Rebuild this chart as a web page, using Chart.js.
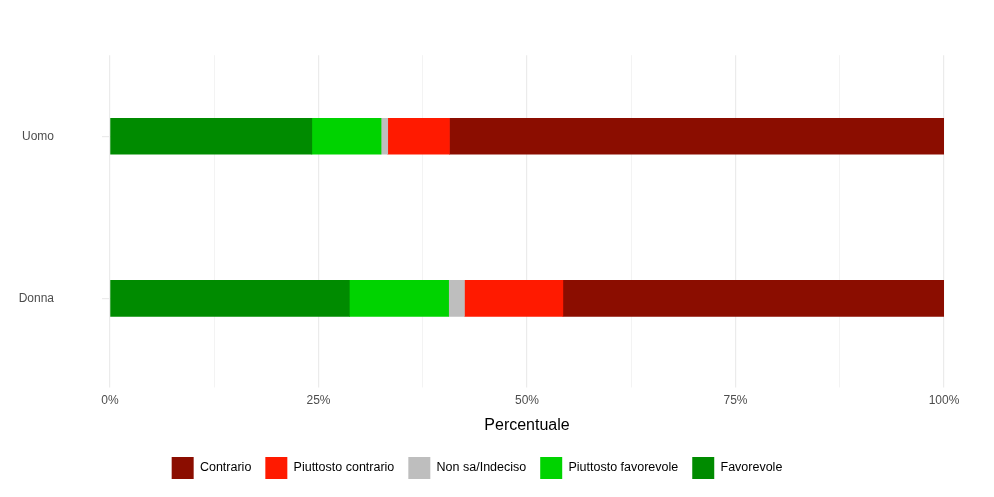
<!DOCTYPE html>
<html>
<head>
<meta charset="utf-8">
<script src="https://cdn.jsdelivr.net/npm/chart.js@4"></script>
<style>
  body { margin: 0; background: #fff; }
  #box { width: 994px; height: 497px; }
</style>
</head>
<body>
<div id="box"><canvas id="grafico"></canvas></div>
<script>
// categorie e valori (percentuali)
var categorie = ["Uomo", "Donna"];
var favorevole = [24.2, 28.7];
var piuttostoFavorevole = [8.3, 11.9];
var nonSa = [0.8, 1.9];
var piuttostoContrario = [7.4, 11.8];
var contrario = [59.3, 45.7];
var tickX = [0, 25, 50, 75, 100];

var font = "'Liberation Sans', Arial, sans-serif";

function serie(nome, dati, colore) {
  return { label: nome, data: dati, backgroundColor: colore, borderWidth: 0, barThickness: 36 };
}

new Chart(document.getElementById("grafico"), {
  type: "bar",
  data: {
    labels: categorie,
    datasets: [
      serie("Favorevole", favorevole, "#008B00"),
      serie("Piuttosto favorevole", piuttostoFavorevole, "#00D300"),
      serie("Non sa/Indeciso", nonSa, "#BEBEBE"),
      serie("Piuttosto contrario", piuttostoContrario, "#FF1A00"),
      serie("Contrario", contrario, "#8B0D00")
    ]
  },
  options: {
    indexAxis: "y",
    responsive: true,
    maintainAspectRatio: false,
    animation: false,
    layout: { padding: { left: 10, right: 50, top: -40, bottom: 8 } },
    scales: {
      x: {
        stacked: true,
        min: 0,
        max: 100,
        border: { display: false },
        grid: { color: "#EBEBEB", lineWidth: function (c) { return tickX.indexOf(c.tick.value) >= 0 ? 1.2 : 0.6; } },
        ticks: {
          stepSize: 12.5,
          color: "#4D4D4D",
          padding: 6,
          font: { family: font, size: 12 },
          callback: function (v) { return tickX.indexOf(v) >= 0 ? v + "%" : ""; }
        },
        title: { display: true, text: "Percentuale", color: "#000", font: { family: font, size: 16 }, padding: { top: 2, bottom: 8 } }
      },
      y: {
        stacked: true,
        border: { display: false },
        grid: { color: "#EBEBEB", offset: false, lineWidth: 1.2 },
        ticks: { color: "#4D4D4D", font: { family: font, size: 12 }, padding: 48 },
        afterFit: function (s) { s.width = 100; }
      }
    },
    plugins: {
      tooltip: { enabled: false },
      legend: {
        position: "bottom",
        reverse: true,
        labels: { boxWidth: 22, boxHeight: 22, padding: 14, color: "#000", font: { family: font, size: 12.5 } }
      }
    }
  }
});
</script>
</body>
</html>
